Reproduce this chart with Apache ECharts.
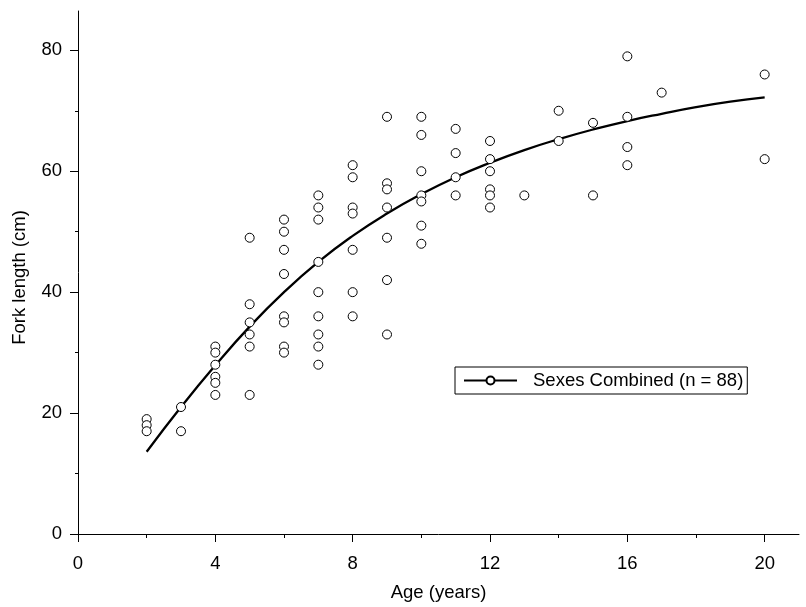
<!DOCTYPE html>
<html>
<head>
<meta charset="utf-8">
<script src="https://cdn.jsdelivr.net/npm/echarts@6/dist/echarts.min.js"></script>
<style>
  html, body { margin: 0; padding: 0; background: #fff; }
  #chart { width: 806px; height: 607px; }
</style>
</head>
<body>
<div id="chart"></div>
<script>
// Observed fork lengths (cm), grouped by age (years)
const obsAges = [2, 3, 4, 5, 6, 7, 8, 9, 10, 11, 12, 13, 14, 15, 16, 17, 20];
const obsLengths = [
  [19, 18, 17],
  [21, 17],
  [31, 30, 28, 26, 25, 23],
  [49, 38, 35, 33, 31, 23],
  [52, 50, 47, 43, 36, 35, 31, 30],
  [56, 54, 52, 45, 40, 36, 33, 31, 28],
  [61, 59, 54, 53, 47, 40, 36],
  [69, 58, 57, 54, 49, 42, 33],
  [69, 66, 60, 56, 55, 51, 48],
  [67, 63, 59, 56],
  [65, 62, 60, 57, 56, 54],
  [56],
  [70, 65],
  [68, 56],
  [79, 69, 64, 61],
  [73],
  [76, 62]
];

// Fitted growth curve
const curveAges = [2, 3, 4, 5, 6, 7, 8, 9, 10, 11, 12, 13, 14, 15, 16, 17, 18, 19, 20];
const curveLengths = [13.6, 21.0, 27.9, 34.3, 40.0, 45.0, 49.3, 53.0, 56.2, 59.0, 61.4, 63.5, 65.3, 66.9, 68.3, 69.5, 70.6, 71.5, 72.2];

// Axis ticks
const xMajorTicks = [0, 4, 8, 12, 16, 20];
const xMinorTicks = [2, 6, 10, 14, 18];
const yMajorTicks = [0, 20, 40, 60, 80];
const yMinorTicks = [10, 30, 50, 70];

const seriesName = 'Sexes Combined (n = 88)';

const obsPoints = [];
obsAges.forEach((age, i) => {
  obsLengths[i].forEach(len => obsPoints.push([age, len]));
});
const curvePoints = curveAges.map((a, i) => [a, curveLengths[i]]);

const FONT = '"Liberation Sans", Arial, Helvetica, sans-serif';
const black = '#000';

const chart = echarts.init(document.getElementById('chart'), null, { renderer: 'canvas' });

chart.setOption({
  animation: false,
  backgroundColor: '#fff',
  textStyle: { fontFamily: FONT, color: black },
  grid: { left: 78, right: 7, top: 11, bottom: 72, containLabel: false },
  legend: {
    data: [seriesName],
    left: 455,
    top: 367,
    orient: 'horizontal',
    padding: [4, 4, 4, 8],
    borderColor: black,
    borderWidth: 1,
    backgroundColor: '#fff',
    itemWidth: 53,
    itemHeight: 10,
    textStyle: { fontFamily: FONT, fontSize: 18.5, color: black, padding: [0, 0, 0, 11] }
  },
  xAxis: [
    {
      type: 'value', min: 0, max: 21,
      name: 'Age (years)', nameLocation: 'middle', nameGap: 49,
      nameTextStyle: { fontFamily: FONT, fontSize: 18.5, color: black },
      axisLine: { show: true, onZero: false, lineStyle: { color: black, width: 1 } },
      axisTick: { show: true, customValues: xMajorTicks, length: 8, lineStyle: { color: black, width: 1 } },
      axisLabel: { customValues: xMajorTicks, margin: 20, fontFamily: FONT, fontSize: 18.5, color: black },
      splitLine: { show: false }
    },
    {
      type: 'value', min: 0, max: 21, position: 'bottom',
      axisLine: { show: false },
      axisTick: { show: true, customValues: xMinorTicks, length: 4, lineStyle: { color: black, width: 1 } },
      axisLabel: { show: false },
      splitLine: { show: false }
    }
  ],
  yAxis: [
    {
      type: 'value', min: 0, max: 86.5,
      name: 'Fork length (cm)', nameLocation: 'middle', nameGap: 49,
      nameTextStyle: { fontFamily: FONT, fontSize: 18.5, color: black, padding: [0, 10, 0, 0] },
      axisLine: { show: true, onZero: false, lineStyle: { color: black, width: 1 } },
      axisTick: { show: true, customValues: yMajorTicks, length: 8, lineStyle: { color: black, width: 1 } },
      axisLabel: { customValues: yMajorTicks, margin: 16, fontFamily: FONT, fontSize: 18.5, color: black },
      splitLine: { show: false }
    },
    {
      type: 'value', min: 0, max: 86.5, position: 'left',
      axisLine: { show: false },
      axisTick: { show: true, customValues: yMinorTicks, length: 3, lineStyle: { color: black, width: 1 } },
      axisLabel: { show: false },
      splitLine: { show: false }
    }
  ],
  series: [
    {
      name: seriesName,
      type: 'line',
      data: curvePoints,
      smooth: true,
      symbol: 'emptyCircle',
      symbolSize: 9,
      showSymbol: false,
      lineStyle: { color: black, width: 2.3 },
      itemStyle: { color: black, borderColor: black },
      z: 2,
      silent: true
    },
    {
      name: 'Observed',
      type: 'scatter',
      data: obsPoints,
      symbol: 'circle',
      symbolSize: 9,
      itemStyle: { color: '#fff', borderColor: black, borderWidth: 1, opacity: 1 },
      z: 3,
      silent: true
    }
  ]
});
</script>
</body>
</html>
